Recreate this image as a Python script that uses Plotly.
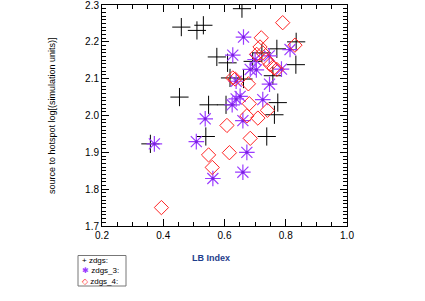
import plotly.graph_objects as go

# --- data ---
zdgs_x = [0.657, 0.459, 0.510, 0.531, 0.575, 0.610, 0.618, 0.662, 0.453, 0.548, 0.605,
          0.539, 0.738, 0.763, 0.774, 0.758, 0.771, 0.834, 0.833, 0.358, 0.692, 0.722]
zdgs_y = [2.290, 2.240, 2.231, 2.245, 2.159, 2.143, 2.102, 2.099, 2.050, 2.029, 2.029,
          1.943, 1.943, 2.002, 2.035, 2.108, 2.181, 2.200, 2.138, 1.923, 2.147, 2.170]

zdgs3_x = [0.371, 0.662, 0.627, 0.537, 0.508, 0.562, 0.660, 0.673, 0.660, 0.625, 0.638,
           0.651, 0.725, 0.747, 0.638, 0.684, 0.704, 0.786, 0.814, 0.700, 0.746]
zdgs3_y = [1.923, 2.213, 2.164, 1.991, 1.929, 1.829, 1.846, 1.900, 1.986, 2.029, 2.045,
           2.052, 2.043, 2.085, 2.093, 2.125, 2.124, 2.126, 2.179, 2.152, 2.162]

zdgs4_x = [0.394, 0.548, 0.560, 0.616, 0.608, 0.684, 0.673, 0.709, 0.681, 0.740, 0.678,
           0.627, 0.635, 0.720, 0.790, 0.830, 0.705, 0.716, 0.725, 0.736, 0.749, 0.762, 0.771]
zdgs4_y = [1.750, 1.893, 1.859, 1.899, 1.973, 1.938, 1.999, 1.993, 2.032, 2.014, 2.086,
           2.102, 2.099, 2.211, 2.252, 2.191, 2.166, 2.186, 2.170, 2.152, 2.138, 2.129, 2.125]

series_names = ["zdgs:", "zdgs_3:", "zdgs_4:"]

BLACK = "#000000"
PURPLE = "#9b3cff"
RED = "#ff2222"
FONT = "Liberation Sans"

W, H = 425, 301
L, R, T, B = 102, 78, 5, 75
PW, PH = W - L - R, H - T - B


def px(x):
    return (x - L) / PW


def py(y):
    return (H - B - y) / PH


fig = go.Figure()
fig.add_trace(go.Scatter(x=zdgs_x, y=zdgs_y, mode="markers", name=series_names[0],
                         marker=dict(symbol="cross-thin-open", size=13, color=BLACK,
                                     line=dict(color=BLACK, width=1))))
fig.add_trace(go.Scatter(x=zdgs3_x, y=zdgs3_y, mode="markers", name=series_names[1],
                         marker=dict(symbol="asterisk-open", size=13, color=PURPLE,
                                     line=dict(color=PURPLE, width=1.2))))
fig.add_trace(go.Scatter(x=zdgs3_x, y=zdgs3_y, mode="markers", showlegend=False,
                         marker=dict(symbol="circle", size=3, color="#7a20e0")))
fig.add_trace(go.Scatter(x=zdgs4_x, y=zdgs4_y, mode="markers", name=series_names[2],
                         marker=dict(symbol="diamond-open", size=11, color=RED,
                                     line=dict(color=RED, width=1))))

axis_common = dict(showgrid=False, zeroline=False, showline=True, linecolor="black",
                   linewidth=1, mirror="allticks", ticks="inside", ticklen=7,
                   tickwidth=1.2, tickcolor="black", ticklabeloverflow="allow",
                   tickfont=dict(family=FONT, size=10, color="black"))

fig.update_xaxes(range=[0.2, 1.0], tick0=0.2, dtick=0.2, tickformat=".1f",
                 minor=dict(ticks="inside", ticklen=4, dtick=0.05, tickcolor="black",
                            tickwidth=1.2, showgrid=False),
                 **axis_common)
fig.update_yaxes(range=[1.7, 2.3], tick0=1.7, dtick=0.1, tickformat=".1f",
                 minor=dict(ticks="inside", ticklen=4, dtick=0.01, tickcolor="black",
                            tickwidth=1, showgrid=False),
                 **axis_common)

legend_syms = [("+", BLACK), ("✱", PURPLE), ("◇", RED)]
legend_text = "<br>".join(
    f"<span style='color:{c}'>{s}</span> {n}"
    for (s, c), n in zip(legend_syms, series_names))

annotations = [
    dict(text="<b>LB Index</b>", xref="paper", yref="paper", x=px(211), y=py(258),
         xanchor="center", yanchor="middle", showarrow=False,
         font=dict(family=FONT, size=9, color="#1f3d8c")),
    dict(text="source to hotspot log[(simulation units)]", xref="paper", yref="paper",
         x=px(52), y=py(116), textangle=-90, xanchor="center", yanchor="middle",
         showarrow=False, font=dict(family=FONT, size=9, color="black")),
    dict(text=legend_text, xref="paper", yref="paper", x=px(80), y=py(271),
         xanchor="left", yanchor="middle", align="left", showarrow=False,
         font=dict(family=FONT, size=8, color="black")),
]

fig.update_layout(
    template="none",
    width=W, height=H,
    margin=dict(l=L, r=R, t=T, b=B),
    paper_bgcolor="white", plot_bgcolor="white",
    showlegend=False,
    annotations=annotations,
    shapes=[dict(type="rect", xref="paper", yref="paper",
                 x0=px(78), x1=px(126), y0=py(255.5), y1=py(286),
                 line=dict(color="#777777", width=1), fillcolor="rgba(0,0,0,0)")],
)

fig.write_html("out.html", config={"displayModeBar": False},
               post_script="document.body.style.margin='0';")
